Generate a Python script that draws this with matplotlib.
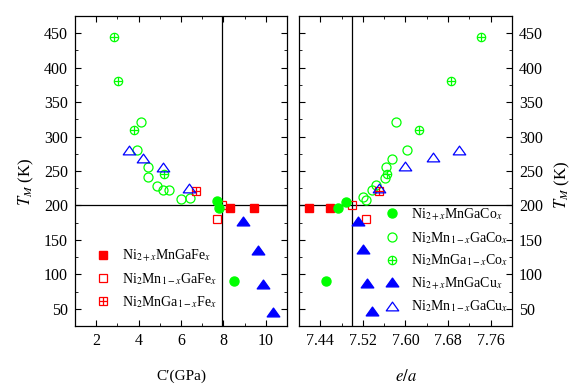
import matplotlib
matplotlib.use("Agg")
import matplotlib.pyplot as plt
from matplotlib.ticker import MultipleLocator
from matplotlib.path import Path

plt.rcParams['font.family'] = 'Liberation Serif'
plt.rcParams['mathtext.fontset'] = 'stix'
plt.rcParams['font.size'] = 10

# ---- data: T_M (K) vs C' (GPa) ----
fe_ni_c = [8.30, 9.42];  fe_ni_t = [197, 196]
fe_mn_c = [7.70, 7.92];  fe_mn_t = [181, 201]
fe_ga_c = [6.71];        fe_ga_t = [221]
co_ni_c = [7.70, 7.80, 8.51]; co_ni_t = [206, 197, 91]
co_mn_c = [4.09, 3.91, 4.43, 4.46, 4.85, 5.14, 5.42, 6.00, 6.44]
co_mn_t = [321, 280, 256, 241, 228, 222, 222, 209, 211]
co_ga_c = [2.82, 3.02, 3.80, 5.22]; co_ga_t = [445, 380, 310, 246]
cu_ni_c = [8.92, 9.65, 9.87, 10.35]; cu_ni_t = [177, 136, 86, 46]
cu_mn_c = [3.54, 4.23, 5.14, 6.36];  cu_mn_t = [281, 269, 256, 225]

# ---- data: T_M (K) vs e/a ----
fe_ni_ea = [7.419, 7.458]; fe_ni_t2 = [196, 197]
fe_mn_ea = [7.500, 7.525]; fe_mn_t2 = [201, 181]
fe_ga_ea = [7.550];        fe_ga_t2 = [221]
co_ni_ea = [7.488, 7.473, 7.450]; co_ni_t2 = [205, 196, 91]
co_mn_ea = [7.582, 7.602, 7.575, 7.563, 7.562, 7.545, 7.537, 7.520, 7.526]
co_mn_t2 = [321, 280, 268, 256, 240, 230, 222, 212, 208]
co_ga_ea = [7.741, 7.686, 7.626, 7.566]; co_ga_t2 = [445, 380, 310, 246]
cu_ni_ea = [7.511, 7.520, 7.527, 7.538]; cu_ni_t2 = [178, 137, 87, 47]
cu_mn_ea = [7.701, 7.652, 7.600, 7.551]; cu_mn_t2 = [281, 271, 257, 226]

labels_fe = [r'Ni$_{2+x}$MnGaFe$_x$', r'Ni$_2$Mn$_{1-x}$GaFe$_x$', r'Ni$_2$MnGa$_{1-x}$Fe$_x$']
labels_cc = [r'Ni$_{2+x}$MnGaCo$_x$', r'Ni$_2$Mn$_{1-x}$GaCo$_x$', r'Ni$_2$MnGa$_{1-x}$Co$_x$',
             r'Ni$_{2+x}$MnGaCu$_x$', r'Ni$_2$Mn$_{1-x}$GaCu$_x$']

green = '#00ff00'
red = '#ff0000'
blue = '#0000ff'
tri = Path([(-1, -0.7), (1, -0.7), (0, 0.7), (-1, -0.7)], closed=True)


def draw(ax, d):
    (fni, fnit, fmn, fmnt, fga, fgat, cni, cnit, cmn, cmnt, cga, cgat, uni, unit, umn, umnt) = d
    h = {}
    h['cmn'], = ax.plot(cmn, cmnt, 'o', ls='none', ms=6.5, mfc='none', mec=green, mew=0.9)
    a, = ax.plot(cga, cgat, 'o', ls='none', ms=6, mfc='none', mec=green, mew=0.9)
    b, = ax.plot(cga, cgat, '+', ls='none', ms=6, mec=green, mew=0.9)
    h['cga'] = (a, b)
    a, = ax.plot(fga, fgat, 's', ls='none', ms=5.5, mfc='none', mec=red, mew=0.9)
    b, = ax.plot(fga, fgat, '+', ls='none', ms=5.5, mec=red, mew=0.9)
    h['fga'] = (a, b)
    h['umn'], = ax.plot(umn, umnt, marker=tri, ls='none', ms=9, mfc='none', mec=blue, mew=0.9)
    h['fmn'], = ax.plot(fmn, fmnt, 's', ls='none', ms=5.5, mfc='none', mec=red, mew=0.9)
    h['fni'], = ax.plot(fni, fnit, 's', ls='none', ms=6, mfc=red, mec=red)
    h['cni'], = ax.plot(cni, cnit, 'o', ls='none', ms=6.5, mfc=green, mec=green)
    h['uni'], = ax.plot(uni, unit, marker=tri, ls='none', ms=9, mfc=blue, mec=blue)
    return h


def style(ax):
    ax.tick_params(which='both', direction='in', top=True, bottom=True, left=True, right=True,
                   labelsize=11.5)
    ax.tick_params(which='major', length=4, pad=5)
    ax.tick_params(which='minor', length=2.5)
    ax.set_ylim(25, 475)
    ax.yaxis.set_major_locator(MultipleLocator(50))
    ax.yaxis.set_minor_locator(MultipleLocator(25))
    for s in ax.spines.values():
        s.set_linewidth(0.9)


fig = plt.figure(figsize=(5.86, 3.86), dpi=100)
ax1 = fig.add_axes([75 / 586, 60 / 386, 212 / 586, 310 / 386])
ax2 = fig.add_axes([299 / 586, 60 / 386, 213 / 586, 310 / 386])

h1 = draw(ax1, (fe_ni_c, fe_ni_t, fe_mn_c, fe_mn_t, fe_ga_c, fe_ga_t,
                co_ni_c, co_ni_t, co_mn_c, co_mn_t, co_ga_c, co_ga_t,
                cu_ni_c, cu_ni_t, cu_mn_c, cu_mn_t))
h2 = draw(ax2, (fe_ni_ea, fe_ni_t2, fe_mn_ea, fe_mn_t2, fe_ga_ea, fe_ga_t2,
                co_ni_ea, co_ni_t2, co_mn_ea, co_mn_t2, co_ga_ea, co_ga_t2,
                cu_ni_ea, cu_ni_t2, cu_mn_ea, cu_mn_t2))

for ax in (ax1, ax2):
    style(ax)
    ax.axhline(200, color='k', lw=0.9, zorder=1)

ax1.axvline(7.95, color='k', lw=0.9, zorder=1)
ax2.axvline(7.50, color='k', lw=0.9, zorder=1)

ax1.set_xlim(1, 11)
ax1.xaxis.set_major_locator(MultipleLocator(2))
ax1.xaxis.set_minor_locator(MultipleLocator(1))
ax1.set_xlabel('C′(GPa)', fontsize=11)
ax1.xaxis.set_label_coords(0.5, -0.14)
ax1.set_ylabel(r'$T_M$ (K)', fontsize=12)
ax1.yaxis.set_label_coords(-0.185, 0.465)

ax2.set_xlim(7.40, 7.80)
ax2.set_xticks([7.44, 7.52, 7.60, 7.68, 7.76])
ax2.xaxis.set_minor_locator(MultipleLocator(0.04))
ax2.tick_params(labelleft=False, labelright=True)
ax2.yaxis.set_label_position('right')
ax2.set_ylabel(r'$T_M$ (K)', fontsize=12)
ax2.yaxis.set_label_coords(1.19, 0.455)
ax2.set_xlabel(r'$e/a$', fontsize=12)
ax2.xaxis.set_label_coords(0.5, -0.14)

ax1.legend([h1['fni'], h1['fmn'], h1['fga']], labels_fe, loc='lower left',
           bbox_to_anchor=(0.065, 0.035), borderaxespad=0, frameon=False, fontsize=10,
           handlelength=1.2, handletextpad=0.8, labelspacing=0.5)
ax2.legend([h2['cni'], h2['cmn'], h2['cga'], h2['uni'], h2['umn']], labels_cc,
           loc='lower left', bbox_to_anchor=(0.371, 0.02), borderaxespad=0, frameon=False,
           fontsize=10, handlelength=1.2, handletextpad=0.8, labelspacing=0.5)

fig.savefig('out.png', dpi=100)
